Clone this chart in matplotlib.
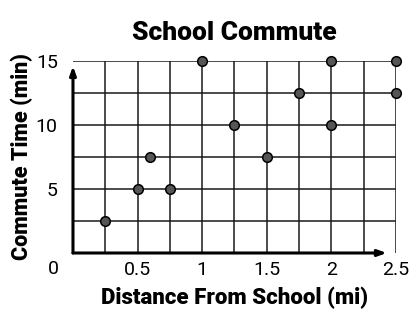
import matplotlib.pyplot as plt
import numpy as np

# Commute survey data
distance_mi = [0.25, 0.5, 0.6, 0.75, 1.0, 1.25, 1.5, 1.75, 2.0, 2.0, 2.5, 2.5]
commute_min = [2.5, 5, 7.5, 5, 15, 10, 7.5, 12.5, 10, 15, 15, 12.5]

x_ticks = [0.5, 1, 1.5, 2, 2.5]
x_tick_labels = ["0.5", "1", "1.5", "2", "2.5"]
y_ticks = [5, 10, 15]
y_tick_labels = ["5", "10", "15"]

plt.rcParams['font.family'] = ['Roboto', 'DejaVu Sans']

fig = plt.figure(figsize=(4.18, 3.29), dpi=100)
fig.patch.set_facecolor("white")
ax = fig.add_axes([0.1746, 0.231, 0.7724, 0.5836])

ax.set_xlim(0, 2.5)
ax.set_ylim(0, 15)

# grid every 0.25 mi and 2.5 min
for gx in np.arange(0.25, 2.51, 0.25):
    ax.axvline(gx, color="#1a1a1a", linewidth=1.1, zorder=1)
for gy in np.arange(2.5, 15.01, 2.5):
    ax.axhline(gy, color="#1a1a1a", linewidth=1.1, zorder=1)

for s in ax.spines.values():
    s.set_visible(False)

# axes with arrowheads
ax.annotate("", xy=(0, 14.6), xytext=(0, 0), xycoords="data",
            arrowprops=dict(arrowstyle="-|>,head_length=0.5,head_width=0.18",
                            color="black", lw=2.2, shrinkA=0, shrinkB=0),
            annotation_clip=False, zorder=3)
ax.annotate("", xy=(2.43, 0), xytext=(0, 0), xycoords="data",
            arrowprops=dict(arrowstyle="-|>,head_length=0.5,head_width=0.18",
                            color="black", lw=2.2, shrinkA=0, shrinkB=0),
            annotation_clip=False, zorder=3)

ax.scatter(distance_mi, commute_min, s=48, color="#555555", edgecolor="black",
           linewidth=1.1, zorder=4, clip_on=False)

ax.set_xticks(x_ticks)
ax.set_xticklabels(x_tick_labels, fontsize=14)
ax.set_yticks(y_ticks)
ax.set_yticklabels(y_tick_labels, fontsize=14)
ax.tick_params(length=0, pad=6)
ax.tick_params(axis="y", pad=11)
ax.text(-0.062, -0.085, "0", transform=ax.transAxes, fontsize=14,
        ha="center", va="center")

ax.set_title("School Commute", fontsize=19, fontweight="black", pad=15)
ax.set_xlabel("Distance From School (mi)", fontsize=16, fontweight="black", labelpad=5)
ax.set_ylabel("Commute Time (min)", fontsize=15.5, fontweight="black", labelpad=2)

fig.savefig("out.png", dpi=100, facecolor="white")
